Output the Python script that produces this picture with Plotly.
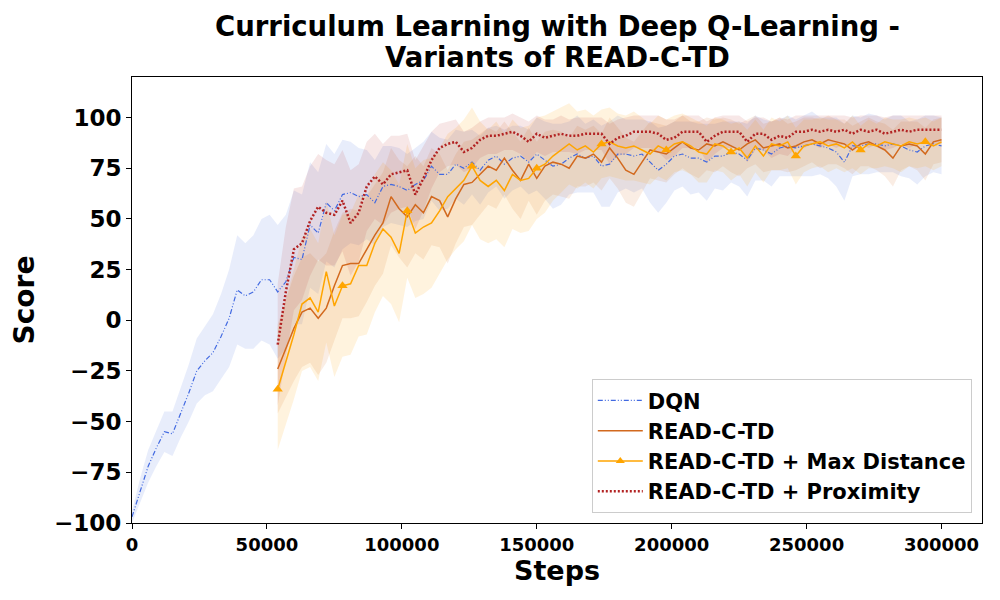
import numpy as np
import plotly.graph_objects as go

# steps grid (every 3000 steps), curriculum variants start at 54000
dqn_steps = list(range(0, 300001, 3000))
cl_steps = list(range(54000, 300001, 3000))

dqn_score = [-97, -84, -72, -63, -55, -56, -46, -36, -25, -20,
             -16, -8, 1, 15, 12, 14, 20, 20, 14, 19,
             31, 30, 47, 43, 58, 54, 62, 63, 61, 62,
             58, 66, 67, 66, 64, 67, 69, 76, 72, 72,
             77, 75, 78, 74, 79, 81, 77, 80, 81, 78,
             82, 79, 76, 77, 80, 82, 80, 81, 76, 77,
             82, 82, 81, 82, 78, 74, 77, 81, 82, 80,
             80, 78, 81, 81, 83, 82, 79, 85, 84, 82,
             85, 86, 85, 86, 87, 86, 85, 83, 78, 86,
             86, 87, 87, 86, 87, 86, 84, 83, 86, 87,
             86]
dqn_std = [3, 6, 8, 9, 10, 11, 12, 14, 16, 17,
           19, 21, 24, 27, 26, 28, 30, 32, 33, 33,
           33, 32, 31, 30, 29, 28, 27, 25, 24, 22,
           21, 20, 19, 19, 18, 18, 19, 17, 18, 17,
           17, 18, 16, 17, 16, 15, 17, 16, 15, 16,
           18, 19, 21, 20, 18, 19, 17, 18, 20, 21,
           19, 17, 18, 17, 20, 21, 19, 17, 16, 18,
           17, 19, 16, 17, 15, 16, 18, 16, 15, 16,
           14, 15, 14, 15, 16, 14, 15, 17, 19, 15,
           14, 15, 14, 13, 14, 15, 14, 16, 15, 14,
           14]

readctd_score = [-24, -14, -4, 4, 6, 1, 6, 17, 27, 28,
                 28, 35, 42, 48, 61, 55, 51, 57, 53, 61,
                 59, 51, 60, 67, 68, 72, 76, 74, 80, 74,
                 69, 77, 70, 76, 78, 77, 75, 81, 80, 82,
                 78, 85, 80, 74, 72, 78, 84, 83, 82, 85,
                 88, 85, 84, 87, 86, 88, 86, 84, 87, 89,
                 85, 86, 87, 85, 86, 88, 89, 87, 89, 88,
                 87, 84, 87, 88, 86, 84, 80, 86, 87, 86,
                 82, 88, 89]
readctd_std = [22, 24, 26, 27, 27, 28, 27, 27, 26, 27,
               26, 26, 25, 25, 24, 24, 25, 24, 23, 24,
               23, 23, 22, 21, 21, 20, 19, 19, 18, 19,
               19, 18, 18, 17, 16, 16, 15, 15, 14, 14,
               14, 15, 15, 16, 16, 15, 14, 14, 14, 13,
               13, 13, 14, 13, 13, 12, 13, 13, 12, 12,
               12, 12, 13, 12, 12, 12, 11, 12, 12, 11,
               12, 12, 11, 12, 12, 13, 14, 12, 11, 12,
               13, 11, 11]

maxdist_score = [-34, -21, -7, 8, 11, 4, 24, 7, 17, 18,
                 27, 27, 38, 45, 41, 33, 54, 43, 46, 48,
                 54, 61, 65, 69, 76, 69, 66, 69, 64, 72,
                 69, 70, 75, 77, 81, 84, 87, 84, 86, 83,
                 87, 88, 86, 85, 86, 84, 82, 86, 84, 87,
                 88, 86, 83, 82, 87, 86, 83, 85, 80, 86,
                 81, 87, 86, 88, 81, 86, 87, 88, 86, 87,
                 85, 88, 84, 87, 86, 88, 87, 86, 88, 87,
                 88, 86, 88]
maxdist_std = [30, 31, 32, 33, 34, 34, 35, 35, 35, 35,
               35, 34, 34, 33, 33, 34, 33, 32, 33, 32,
               31, 31, 30, 30, 29, 29, 28, 29, 28, 27,
               26, 26, 25, 24, 22, 21, 20, 19, 18, 18,
               17, 17, 16, 16, 17, 16, 15, 15, 15, 14,
               14, 14, 15, 14, 13, 13, 14, 13, 14, 13,
               13, 13, 12, 13, 14, 13, 12, 12, 13, 12,
               12, 13, 12, 12, 11, 12, 12, 13, 12, 12,
               12, 12, 12]

proximity_score = [-12, 14, 35, 38, 49, 56, 53, 52, 59, 48,
                   53, 66, 71, 67, 72, 73, 74, 62, 70, 79,
                   85, 87, 88, 83, 85, 89, 91, 91, 92, 93,
                   91, 88, 92, 90, 91, 92, 91, 91, 92, 92,
                   92, 87, 90, 91, 93, 93, 93, 92, 89, 90,
                   93, 93, 93, 88, 91, 93, 93, 93, 88, 92,
                   92, 89, 91, 90, 93, 93, 94, 93, 94, 93,
                   94, 92, 94, 93, 94, 92, 93, 94, 93, 94,
                   94, 94, 94]
proximity_std = [30, 32, 30, 28, 27, 26, 26, 25, 25, 26,
                 24, 22, 21, 20, 19, 18, 18, 17, 16, 14,
                 12, 11, 11, 10, 10, 9, 9, 9, 8, 9,
                 9, 10, 9, 9, 8, 9, 8, 9, 8, 8,
                 8, 10, 9, 9, 8, 8, 8, 9, 10, 9,
                 8, 8, 8, 10, 9, 8, 8, 8, 10, 8,
                 8, 9, 9, 9, 8, 8, 7, 8, 7, 8,
                 7, 8, 7, 8, 7, 8, 8, 7, 8, 7,
                 7, 7, 7]

title_lines = ["Curriculum Learning with Deep Q-Learning -", "Variants of READ-C-TD"]

MARK_EVERY = 8
FONT = "DejaVu Sans"

series = [
    # name, steps, mean, std, line colour, band colour, width, dash
    ("DQN", dqn_steps, dqn_score, dqn_std, "#4169E1", "rgba(65,105,225,0.12)", 1.2, "5px,2px,1px,2px,1px,2px"),
    ("READ-C-TD", cl_steps, readctd_score, readctd_std, "#D2691E", "rgba(210,105,30,0.12)", 1.5, "solid"),
    ("READ-C-TD + Max Distance", cl_steps, maxdist_score, maxdist_std, "#FFA500", "rgba(255,165,0,0.13)", 1.5, "solid"),
    ("READ-C-TD + Proximity", cl_steps, proximity_score, proximity_std, "#B22222", "rgba(178,34,34,0.11)", 2.5, "2px,2px"),
]

fig = go.Figure()

# shaded bands first
for name, x, m, s, col, band, w, dash in series:
    x = np.array(x)
    m = np.array(m, dtype=float)
    s = np.array(s, dtype=float)
    fig.add_trace(go.Scatter(
        x=np.concatenate([x, x[::-1]]),
        y=np.concatenate([m + s, (m - s)[::-1]]),
        fill="toself", fillcolor=band, line=dict(width=0),
        hoverinfo="skip", showlegend=False, mode="lines"))

# mean lines
for name, x, m, s, col, band, w, dash in series:
    fig.add_trace(go.Scatter(
        x=x, y=m, mode="lines", name=name, showlegend=False,
        line=dict(color=col, width=w, dash=dash)))
    if name.endswith("Max Distance"):
        fig.add_trace(go.Scatter(
            x=x[::MARK_EVERY], y=m[::MARK_EVERY], mode="markers", showlegend=False,
            marker=dict(symbol="triangle-up", size=9, color=col)))

# legend entries
for name, x, m, s, col, band, w, dash in series:
    mode = "lines+markers" if name.endswith("Max Distance") else "lines"
    fig.add_trace(go.Scatter(
        x=[None], y=[None], mode=mode, name=name,
        line=dict(color=col, width=w, dash=dash),
        marker=dict(symbol="triangle-up", size=8, color=col)))

# two-line bold title
for txt, yy in zip(title_lines, [1.114, 1.045]):
    fig.add_annotation(
        text=txt, xref="paper", yref="paper", x=0.5, y=yy,
        xanchor="center", yanchor="middle", showarrow=False,
        font=dict(size=27.5, weight="bold", family=FONT, color="black"))

# the page adds an 8px body margin, so margins are offset by it
fig.update_layout(
    width=1000, height=600,
    margin=dict(l=124, r=26, t=69, b=85),
    paper_bgcolor="white", plot_bgcolor="white",
    font=dict(family=FONT, color="black"),
    legend=dict(
        x=0.988, y=0.022, xanchor="right", yanchor="bottom",
        bgcolor="rgba(255,255,255,0.85)", bordercolor="#cccccc", borderwidth=1,
        font=dict(size=21, weight="bold", family=FONT),
        itemwidth=45, tracegroupgap=0),
)

fig.update_xaxes(
    range=[0, 315000], tickvals=list(range(0, 300001, 50000)), tickformat="d",
    title=dict(text="Steps", font=dict(size=27, weight="bold"), standoff=6),
    tickfont=dict(size=18, weight="bold"),
    showgrid=False, zeroline=False, showline=True, mirror=True,
    linecolor="black", linewidth=1, ticks="outside", ticklen=5, tickcolor="black")
fig.update_yaxes(
    range=[-100, 120], tickvals=list(range(-100, 101, 25)),
    title=dict(text="Score", font=dict(size=28, weight="bold"), standoff=12),
    tickfont=dict(size=23, weight="bold"),
    showgrid=False, zeroline=False, showline=True, mirror=True,
    linecolor="black", linewidth=1, ticks="outside", ticklen=5, tickcolor="black")

fig.write_html("out.html")
